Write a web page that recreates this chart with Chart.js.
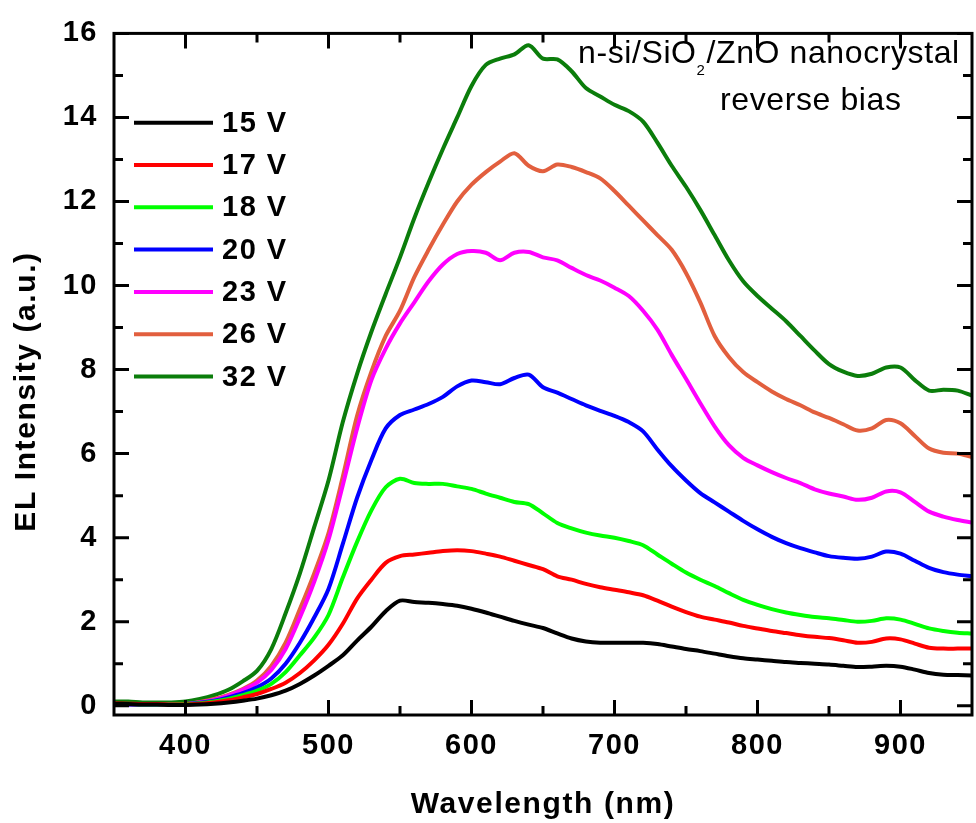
<!DOCTYPE html>
<html>
<head>
<meta charset="utf-8">
<title>EL spectra – n-si/SiO2/ZnO nanocrystal</title>
<script src="https://cdn.jsdelivr.net/npm/chart.js@4.4.1/dist/chart.umd.min.js"></script>
<style>
  html, body { margin: 0; padding: 0; background: #fff; overflow: hidden; }
  #wrap { width: 976px; height: 823px; position: relative; }
</style>
</head>
<body>
<div id="wrap"><canvas id="elChart"></canvas></div>
<script>
// wavelength grid (nm)
const wavelength = [350, 360, 370, 380, 390, 400, 410, 420, 430, 440,
  450, 460, 470, 480, 490, 500, 510, 520, 530, 540,
  550, 560, 570, 580, 590, 600, 610, 620, 630, 640,
  650, 660, 670, 680, 690, 700, 710, 720, 730, 740,
  750, 760, 770, 780, 790, 800, 810, 820, 830, 840,
  850, 860, 870, 880, 890, 900, 910, 920, 930, 940, 950];

// EL intensity (a.u.)
const el15V = [0.05, 0.04, 0.03, 0.03, 0.02, 0.02, 0.03, 0.05, 0.08, 0.12,
  0.17, 0.25, 0.36, 0.52, 0.72, 0.95, 1.20, 1.55, 1.88, 2.25,
  2.50, 2.47, 2.45, 2.42, 2.38, 2.31, 2.22, 2.12, 2.02, 1.93,
  1.85, 1.72, 1.60, 1.53, 1.50, 1.50, 1.50, 1.50, 1.47, 1.41,
  1.35, 1.30, 1.24, 1.18, 1.13, 1.10, 1.07, 1.04, 1.02, 1.00,
  0.98, 0.95, 0.92, 0.93, 0.95, 0.93, 0.86, 0.78, 0.74, 0.73, 0.72];
const el17V = [0.06, 0.05, 0.04, 0.04, 0.03, 0.03, 0.05, 0.08, 0.13, 0.20,
  0.28, 0.40, 0.55, 0.78, 1.08, 1.45, 1.95, 2.55, 3.00, 3.40,
  3.56, 3.60, 3.64, 3.68, 3.70, 3.68, 3.62, 3.55, 3.45, 3.35,
  3.25, 3.08, 3.00, 2.90, 2.82, 2.76, 2.70, 2.63, 2.50, 2.36,
  2.23, 2.12, 2.05, 1.98, 1.90, 1.84, 1.78, 1.73, 1.68, 1.64,
  1.61, 1.56, 1.50, 1.52, 1.60, 1.58, 1.48, 1.38, 1.36, 1.36, 1.36];
const el18V = [0.04, 0.04, 0.03, 0.03, 0.03, 0.04, 0.06, 0.10, 0.16, 0.25,
  0.36, 0.52, 0.80, 1.20, 1.62, 2.16, 3.05, 3.90, 4.65, 5.20,
  5.40, 5.30, 5.28, 5.28, 5.22, 5.16, 5.05, 4.95, 4.85, 4.80,
  4.58, 4.35, 4.22, 4.12, 4.05, 4.00, 3.92, 3.82, 3.60, 3.38,
  3.17, 3.00, 2.85, 2.68, 2.52, 2.40, 2.30, 2.22, 2.16, 2.11,
  2.08, 2.04, 2.00, 2.02, 2.08, 2.05, 1.95, 1.84, 1.78, 1.74, 1.72];
const el20V = [0.04, 0.03, 0.03, 0.03, 0.03, 0.04, 0.07, 0.12, 0.20, 0.30,
  0.44, 0.65, 1.00, 1.50, 2.10, 2.78, 3.85, 4.95, 5.85, 6.60,
  6.92, 7.05, 7.18, 7.35, 7.60, 7.74, 7.70, 7.65, 7.80, 7.88,
  7.58, 7.45, 7.30, 7.15, 7.02, 6.90, 6.75, 6.53, 6.10, 5.70,
  5.36, 5.06, 4.84, 4.62, 4.40, 4.20, 4.02, 3.87, 3.75, 3.65,
  3.56, 3.52, 3.50, 3.55, 3.67, 3.62, 3.45, 3.28, 3.18, 3.12, 3.08];
const el23V = [0.03, 0.03, 0.02, 0.02, 0.02, 0.03, 0.08, 0.14, 0.24, 0.38,
  0.55, 0.85, 1.35, 2.10, 2.95, 3.95, 5.25, 6.60, 7.75, 8.50,
  9.10, 9.60, 10.10, 10.50, 10.75, 10.82, 10.78, 10.60, 10.78, 10.80,
  10.67, 10.60, 10.42, 10.25, 10.12, 9.95, 9.75, 9.40, 8.95, 8.35,
  7.78, 7.20, 6.65, 6.20, 5.90, 5.72, 5.56, 5.42, 5.30, 5.15,
  5.05, 4.98, 4.90, 4.95, 5.10, 5.08, 4.85, 4.62, 4.50, 4.42, 4.36];
const el26V = [0.04, 0.04, 0.03, 0.03, 0.03, 0.04, 0.09, 0.16, 0.26, 0.40,
  0.60, 0.95, 1.50, 2.30, 3.15, 4.11, 5.45, 6.90, 7.95, 8.80,
  9.40, 10.20, 10.85, 11.45, 12.00, 12.40, 12.70, 12.95, 13.15, 12.85,
  12.72, 12.88, 12.82, 12.70, 12.55, 12.25, 11.90, 11.55, 11.20, 10.85,
  10.30, 9.60, 8.80, 8.30, 7.94, 7.70, 7.48, 7.30, 7.15, 6.98,
  6.85, 6.70, 6.55, 6.60, 6.80, 6.72, 6.42, 6.12, 6.02, 6.00, 5.92];
const el32V = [0.10, 0.10, 0.08, 0.08, 0.08, 0.10, 0.16, 0.25, 0.38, 0.58,
  0.83, 1.35, 2.20, 3.15, 4.25, 5.36, 6.75, 7.90, 8.90, 9.80,
  10.67, 11.60, 12.45, 13.25, 14.00, 14.75, 15.25, 15.40, 15.50, 15.72,
  15.40, 15.38, 15.10, 14.70, 14.50, 14.30, 14.15, 13.90, 13.40, 12.85,
  12.35, 11.80, 11.20, 10.60, 10.10, 9.75, 9.45, 9.15, 8.80, 8.45,
  8.13, 7.95, 7.85, 7.90, 8.05, 8.05, 7.75, 7.50, 7.52, 7.50, 7.38];

const voltageLabels = ['15 V', '17 V', '18 V', '20 V', '23 V', '26 V', '32 V'];
const seriesValues = [el15V, el17V, el18V, el20V, el23V, el26V, el32V];
const lineColors = ['#000000', '#ff0000', '#00ff00', '#0000ff', '#ff00ff', '#e25f3e', '#0b7d0b'];

// axis ticks
const xTicks = [400, 500, 600, 700, 800, 900];
const xMinorTicks = [450, 550, 650, 750, 850];
const yTicks = [0, 2, 4, 6, 8, 10, 12, 14, 16];
const yMinorTicks = [1, 3, 5, 7, 9, 11, 13, 15];

const FONT = '"Liberation Sans", Arial, Helvetica, sans-serif';

// frame, inward ticks, legend, axis titles and the note
const framePlugin = {
  id: 'frame',
  beforeDraw(chart) {
    const ctx = chart.ctx;
    ctx.save();
    ctx.fillStyle = '#fff';
    ctx.fillRect(0, 0, chart.width, chart.height);
    ctx.restore();
    ctx.letterSpacing = '1.5px';
  },
  afterDraw(chart) {
    const { ctx, chartArea: a, scales: { x, y } } = chart;
    ctx.save();
    ctx.strokeStyle = '#000';
    ctx.lineWidth = 3;
    ctx.lineCap = 'butt';

    const vTick = (v, len) => {
      const px = x.getPixelForValue(v);
      ctx.beginPath();
      ctx.moveTo(px, a.bottom); ctx.lineTo(px, a.bottom - len);
      ctx.moveTo(px, a.top); ctx.lineTo(px, a.top + len);
      ctx.stroke();
    };
    const hTick = (v, len) => {
      const py = y.getPixelForValue(v);
      ctx.beginPath();
      ctx.moveTo(a.left, py); ctx.lineTo(a.left + len, py);
      ctx.moveTo(a.right, py); ctx.lineTo(a.right - len, py);
      ctx.stroke();
    };
    xTicks.forEach(v => vTick(v, 15));
    xMinorTicks.forEach(v => vTick(v, 9));
    yTicks.forEach(v => hTick(v, 15));
    yMinorTicks.forEach(v => hTick(v, 9));
    ctx.strokeRect(a.left, a.top, a.right - a.left, a.bottom - a.top);

    // legend
    ctx.font = 'bold 29px ' + FONT;
    ctx.textAlign = 'left';
    ctx.textBaseline = 'middle';
    ctx.letterSpacing = '1.5px';
    chart.data.datasets.forEach((ds, i) => {
      const ly = 122.7 + i * 42.3;
      ctx.strokeStyle = ds.borderColor;
      ctx.lineWidth = 4;
      ctx.beginPath();
      ctx.moveTo(134, ly); ctx.lineTo(213, ly);
      ctx.stroke();
      ctx.fillStyle = '#000';
      ctx.fillText(ds.label, 222, ly + 1);
    });

    // axis titles
    ctx.fillStyle = '#000';
    ctx.font = 'bold 30px ' + FONT;
    ctx.letterSpacing = '1.6px';
    ctx.textAlign = 'center';
    ctx.textBaseline = 'alphabetic';
    ctx.fillText('Wavelength (nm)', (a.left + a.right) / 2, 813);
    ctx.save();
    ctx.translate(35, 391.5);
    ctx.rotate(-Math.PI / 2);
    ctx.fillText('EL Intensity (a.u.)', 0, 0);
    ctx.restore();

    // sample note
    ctx.textAlign = 'left';
    ctx.letterSpacing = '0.6px';
    ctx.font = '32px ' + FONT;
    let tx = 578;
    ctx.fillText('n-si/SiO', tx, 63);
    tx += ctx.measureText('n-si/SiO').width;
    ctx.font = '15px ' + FONT;
    ctx.fillText('2', tx, 75);
    tx += ctx.measureText('2').width + 1;
    ctx.font = '32px ' + FONT;
    ctx.fillText('/ZnO nanocrystal', tx, 63);
    ctx.fillText('reverse bias', 720, 110);
    ctx.restore();
  }
};

const tickFont = { family: FONT, size: 29, weight: 'bold' };

new Chart(document.getElementById('elChart'), {
  type: 'line',
  data: {
    datasets: seriesValues.map((vals, i) => ({
      label: voltageLabels[i],
      data: wavelength.map((w, j) => ({ x: w, y: vals[j] })),
      borderColor: lineColors[i],
      backgroundColor: lineColors[i],
      borderWidth: 4,
      pointRadius: 0,
      tension: 0.3,
      fill: false
    }))
  },
  options: {
    responsive: true,
    maintainAspectRatio: false,
    animation: false,
    layout: { padding: { top: 23, right: 4, left: 0, bottom: 0 } },
    plugins: {
      legend: { display: false },
      tooltip: { enabled: false }
    },
    scales: {
      x: {
        type: 'linear',
        min: 350,
        max: 950,
        grid: { display: false, drawTicks: false },
        border: { display: false },
        ticks: { font: tickFont, color: '#000', padding: 14, maxRotation: 0 },
        afterBuildTicks: s => { s.ticks = xTicks.map(v => ({ value: v })); },
        afterFit: s => { s.height = 108; }
      },
      y: {
        type: 'linear',
        min: -0.22,
        max: 16,
        grid: { display: false, drawTicks: false },
        border: { display: false },
        ticks: { font: tickFont, color: '#000', padding: 16 },
        afterBuildTicks: s => { s.ticks = yTicks.map(v => ({ value: v })); },
        afterFit: s => { s.width = 114; }
      }
    }
  },
  plugins: [framePlugin]
});
</script>
</body>
</html>
